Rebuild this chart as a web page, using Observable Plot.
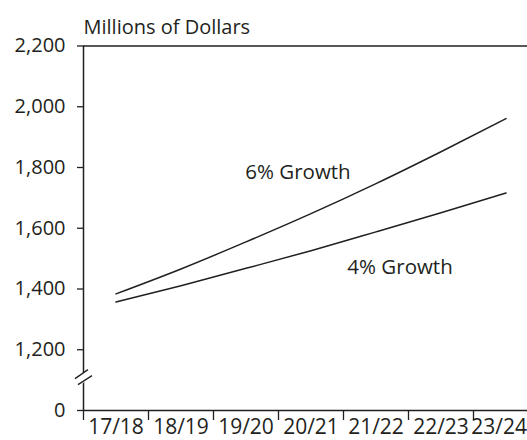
<!DOCTYPE html>
<html>
<head>
<meta charset="utf-8">
<script src="https://cdn.jsdelivr.net/npm/d3@7"></script>
<script src="https://cdn.jsdelivr.net/npm/@observablehq/plot@0.6"></script>
<style>
  html, body { margin: 0; padding: 0; background: #fff; }
  #chart svg { display: block; }
</style>
</head>
<body>
<div id="chart"></div>
<script>
// ---- Data ----
const years = ["17/18", "18/19", "19/20", "20/21", "21/22", "22/23", "23/24"];
const growth6 = [1384, 1466, 1555, 1648, 1747, 1852, 1961];
const growth4 = [1357, 1411, 1468, 1526, 1588, 1651, 1716];
const yTickValues = [1000, 1200, 1400, 1600, 1800, 2000, 2200];
const yTickLabels = ["0", "1,200", "1,400", "1,600", "1,800", "2,000", "2,200"];
const seriesNames = ["6% Growth", "4% Growth"];
const labelX = [3.3, 4.87];       // label anchor, in year-index units
const labelY = [1785, 1472];      // label anchor, in value units
const axisTitle = "Millions of Dollars";
const breakValue = 1100;          // where the axis break sits (between 0 and 1,200)

// ---- Build tables ----
const rows = [];
years.forEach((yr, i) => {
  rows.push({series: seriesNames[0], i: i + 0.5, value: growth6[i]});
  rows.push({series: seriesNames[1], i: i + 0.5, value: growth4[i]});
});
const labels = seriesNames.map((s, k) => ({text: s, x: labelX[k], y: labelY[k]}));
const boundaries = d3.range(0, years.length);
const centers = years.map((_, i) => i + 0.5);
const innerCenters = centers.slice(0, -1);
const lastCenter = centers.slice(-1);
const ink = "#231f20";

// Axis-break symbol drawn through the scales
function axisBreak(index, scales) {
  const sx = scales.x, sy = scales.y;
  const cx = sx(0), cy = sy(breakValue) - 2;
  const g = d3.create("svg:g");
  g.append("polygon")
    .attr("points", [[cx - 8, cy + 1], [cx + 5, cy - 8], [cx + 9, cy - 1], [cx - 4, cy + 8]].map(p => p.join(",")).join(" "))
    .attr("fill", "#fff");
  g.append("line").attr("x1", cx - 8).attr("y1", cy + 1).attr("x2", cx + 5).attr("y2", cy - 8)
    .attr("stroke", ink).attr("stroke-width", 1.3);
  g.append("line").attr("x1", cx - 5).attr("y1", cy + 7).attr("x2", cx + 9).attr("y2", cy - 2)
    .attr("stroke", ink).attr("stroke-width", 1.3);
  return g.node();
}

const xLabelFormat = d => years[Math.round(d - 0.5)];

const chart = Plot.plot({
  width: 527,
  height: 440,
  marginLeft: 83,
  marginRight: -11,
  marginTop: 45.5,
  marginBottom: 30,
  style: {fontFamily: "'Open Sans', sans-serif", fontSize: "20px", color: ink, background: "#fff", overflow: "visible"},
  x: {type: "linear", domain: [0, years.length], range: [83, 538]},
  y: {type: "linear", domain: [1000, 2200], range: [410, 45.5]},
  marks: [
    Plot.ruleY([2200], {x1: 0, x2: years.length, stroke: ink, strokeWidth: 1.5}),
    Plot.ruleY([1000], {x1: 0, x2: years.length, stroke: ink, strokeWidth: 1.5}),
    Plot.ruleX([0], {y1: 1000, y2: 2200, stroke: ink, strokeWidth: 1.5}),
    Plot.axisY({
      ticks: yTickValues,
      tickFormat: d => yTickLabels[yTickValues.indexOf(d)],
      tickSize: 6,
      tickPadding: 12,
      label: null,
      stroke: ink,
      strokeWidth: 1.3,
      fill: ink,
      fontSize: 20
    }),
    Plot.axisX({
      ticks: boundaries,
      tickFormat: () => "",
      tickSize: 10,
      label: null,
      stroke: ink,
      strokeWidth: 1.3
    }),
    Plot.axisX({
      ticks: innerCenters,
      tickFormat: xLabelFormat,
      tickSize: 0,
      tickPadding: 9,
      label: null,
      fill: ink,
      fontSize: 21
    }),
    Plot.axisX({
      ticks: lastCenter,
      tickFormat: xLabelFormat,
      tickSize: 0,
      tickPadding: 9,
      label: null,
      fill: ink,
      fontSize: 21,
      textAnchor: "end",
      dx: 21
    }),
    Plot.line(rows, {x: "i", y: "value", z: "series", stroke: ink, strokeWidth: 1.5, curve: "monotone-x"}),
    Plot.text(labels, {x: "x", y: "y", text: "text", fill: ink, fontSize: 20.5}),
    Plot.text([axisTitle], {frameAnchor: "top-left", textAnchor: "start", lineAnchor: "bottom", dy: -12, fill: ink, fontSize: 20}),
    axisBreak
  ]
});
document.getElementById("chart").append(chart);
</script>
</body>
</html>
